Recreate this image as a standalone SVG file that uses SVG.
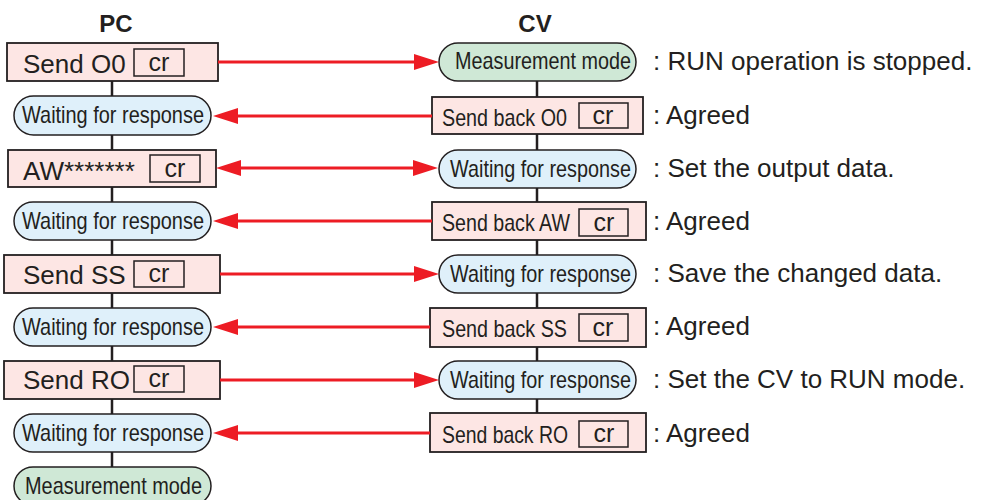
<svg xmlns="http://www.w3.org/2000/svg" width="982" height="500" viewBox="0 0 982 500">
<style>
text{font-family:"Liberation Sans",Arial,sans-serif;fill:#231f20}
.hdr{font-size:24px;font-weight:bold;text-anchor:middle}
.box{fill:#fde6e4;stroke:#231f20;stroke-width:1.8}
.cr{fill:none;stroke:#231f20;stroke-width:1.5}
.wait{fill:#dff0fa;stroke:#231f20;stroke-width:1.5}
.meas{fill:#cfe8d6;stroke:#231f20;stroke-width:1.5}
.big{font-size:26px}
.crt{font-size:25px;text-anchor:middle}
.cond{font-size:24px}
.note{font-size:26px}
.flow{stroke:#231f20;stroke-width:2.5;fill:none}
.arr{stroke:#ed1c24;stroke-width:3;fill:none}
</style>
<defs>
<marker id="ah" markerUnits="userSpaceOnUse" markerWidth="25" markerHeight="16" refX="15" refY="8" orient="auto-start-reverse">
<path d="M0,0 L25,8 L0,16 z" fill="#ed1c24"/>
</marker>
</defs>

<text class="hdr" x="116" y="32">PC</text>
<text class="hdr" x="535" y="32">CV</text>

<g id="flowlines">
<line class="flow" x1="112" y1="81" x2="112" y2="467"/>
<line class="flow" x1="537" y1="81" x2="537" y2="413"/>
</g>

<g id="pc1"><rect class="box" x="7" y="43" width="211" height="38"/><text class="big" x="23" y="73">Send O0</text><rect class="cr" x="134" y="49" width="50" height="27"/><text class="crt" x="159" y="71">cr</text></g>
<g id="pc2"><rect class="wait" x="14" y="96" width="197" height="39" rx="19.5"/><text class="cond" x="22" y="123" textLength="182" lengthAdjust="spacingAndGlyphs">Waiting for response</text></g>
<g id="pc3"><rect class="box" x="8" y="150" width="208" height="37"/><text class="big" x="23" y="180">AW*******</text><rect class="cr" x="150" y="155" width="50" height="27"/><text class="crt" x="175" y="177">cr</text></g>
<g id="pc4"><rect class="wait" x="14" y="202" width="197" height="38" rx="19"/><text class="cond" x="22" y="229" textLength="182" lengthAdjust="spacingAndGlyphs">Waiting for response</text></g>
<g id="pc5"><rect class="box" x="4" y="255" width="216" height="38"/><text class="big" x="23" y="284">Send SS</text><rect class="cr" x="134" y="261" width="50" height="26"/><text class="crt" x="159" y="282">cr</text></g>
<g id="pc6"><rect class="wait" x="14" y="308" width="197" height="38" rx="19"/><text class="cond" x="22" y="335" textLength="182" lengthAdjust="spacingAndGlyphs">Waiting for response</text></g>
<g id="pc7"><rect class="box" x="4" y="361" width="216" height="38"/><text class="big" x="23" y="389">Send RO</text><rect class="cr" x="134" y="366" width="50" height="26"/><text class="crt" x="159" y="387">cr</text></g>
<g id="pc8"><rect class="wait" x="14" y="414" width="197" height="38" rx="19"/><text class="cond" x="22" y="441" textLength="182" lengthAdjust="spacingAndGlyphs">Waiting for response</text></g>
<g id="pc9"><rect class="meas" x="14" y="467" width="197" height="38" rx="19"/><text class="cond" x="25" y="494" textLength="177" lengthAdjust="spacingAndGlyphs">Measurement mode</text></g>

<g id="cv1"><rect class="meas" x="439" y="43" width="197" height="38" rx="19"/><text class="cond" x="455" y="69" textLength="176" lengthAdjust="spacingAndGlyphs">Measurement mode</text></g>
<g id="cv2"><rect class="box" x="432" y="97" width="211" height="37"/><text class="cond" x="442" y="126" textLength="125" lengthAdjust="spacingAndGlyphs">Send back O0</text><rect class="cr" x="579" y="103" width="49" height="25"/><text class="crt" x="603" y="124">cr</text></g>
<g id="cv3"><rect class="wait" x="439" y="150" width="197" height="38" rx="19"/><text class="cond" x="450" y="177" textLength="181" lengthAdjust="spacingAndGlyphs">Waiting for response</text></g>
<g id="cv4"><rect class="box" x="432" y="202" width="214" height="38"/><text class="cond" x="442" y="231" textLength="128" lengthAdjust="spacingAndGlyphs">Send back AW</text><rect class="cr" x="579" y="209" width="49" height="27"/><text class="crt" x="604" y="231">cr</text></g>
<g id="cv5"><rect class="wait" x="439" y="255" width="197" height="38" rx="19"/><text class="cond" x="450" y="282" textLength="181" lengthAdjust="spacingAndGlyphs">Waiting for response</text></g>
<g id="cv6"><rect class="box" x="430" y="308" width="216" height="39"/><text class="cond" x="442" y="337" textLength="125" lengthAdjust="spacingAndGlyphs">Send back SS</text><rect class="cr" x="579" y="314" width="49" height="27"/><text class="crt" x="603" y="336">cr</text></g>
<g id="cv7"><rect class="wait" x="439" y="361" width="197" height="38" rx="19"/><text class="cond" x="450" y="388" textLength="181" lengthAdjust="spacingAndGlyphs">Waiting for response</text></g>
<g id="cv8"><rect class="box" x="430" y="413" width="216" height="39"/><text class="cond" x="442" y="443" textLength="126" lengthAdjust="spacingAndGlyphs">Send back RO</text><rect class="cr" x="579" y="421" width="49" height="26"/><text class="crt" x="604" y="442">cr</text></g>

<g id="notes">
<text class="note" x="653" y="70">: RUN operation is stopped.</text>
<text class="note" x="653" y="124">: Agreed</text>
<text class="note" x="653" y="177">: Set the output data.</text>
<text class="note" x="653" y="230">: Agreed</text>
<text class="note" x="653" y="282">: Save the changed data.</text>
<text class="note" x="653" y="335">: Agreed</text>
<text class="note" x="653" y="388">: Set the CV to RUN mode.</text>
<text class="note" x="653" y="442">: Agreed</text>
</g>

<g id="connectors">
<line class="arr" x1="218" y1="62" x2="429" y2="62" marker-end="url(#ah)"/>
<line class="arr" x1="432" y1="116" x2="223" y2="116" marker-end="url(#ah)"/>
<line class="arr" x1="226" y1="168" x2="428" y2="168" marker-start="url(#ah)" marker-end="url(#ah)"/>
<line class="arr" x1="432" y1="221" x2="223" y2="221" marker-end="url(#ah)"/>
<line class="arr" x1="220" y1="274" x2="429" y2="274" marker-end="url(#ah)"/>
<line class="arr" x1="430" y1="327" x2="223" y2="327" marker-end="url(#ah)"/>
<line class="arr" x1="220" y1="380" x2="429" y2="380" marker-end="url(#ah)"/>
<line class="arr" x1="430" y1="433" x2="223" y2="433" marker-end="url(#ah)"/>
</g>
</svg>
